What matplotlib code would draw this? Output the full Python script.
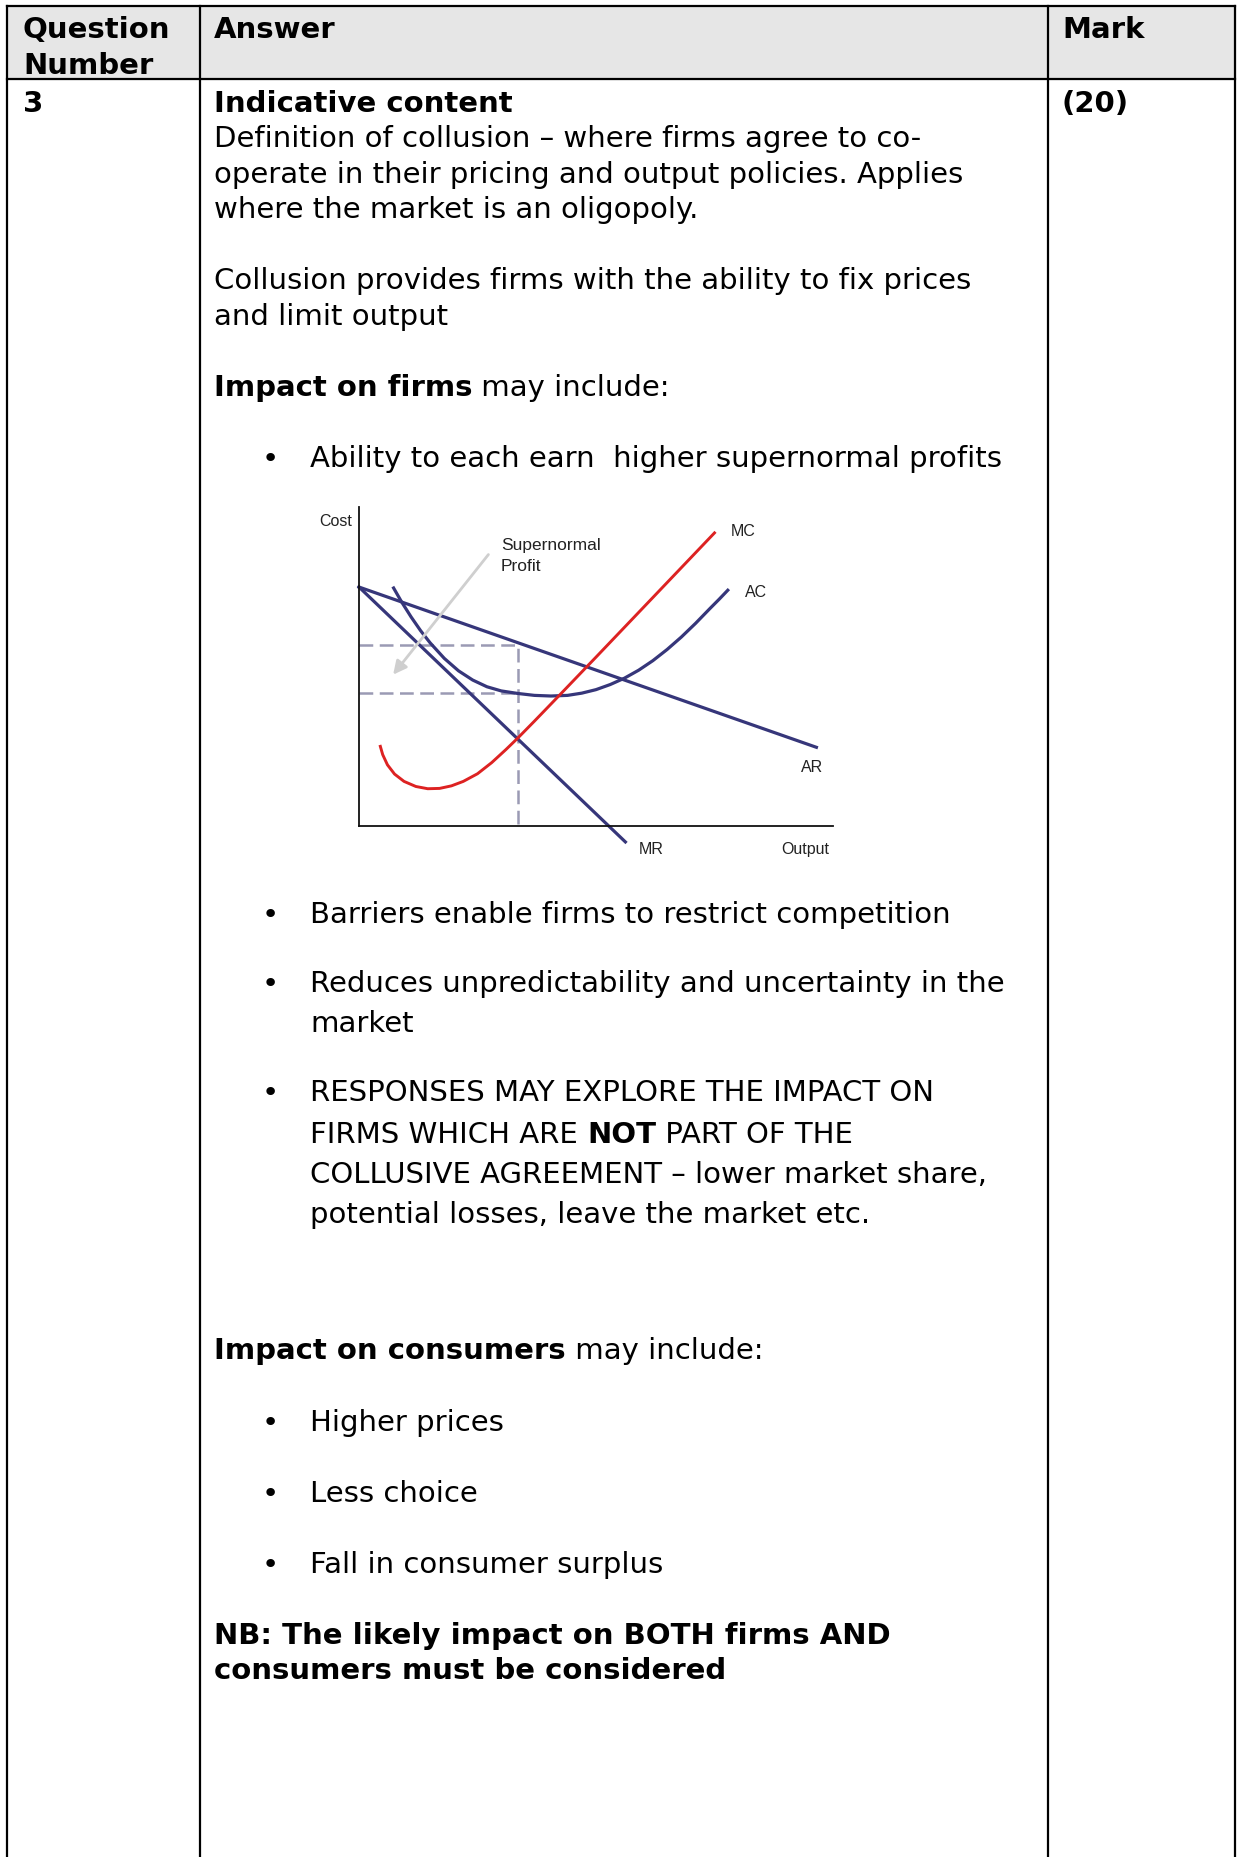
import matplotlib.pyplot as plt

W, H = 1237, 1858
DPI = 100

# table text
header = ["Question\nNumber", "Answer", "Mark"]
question_no = "3"
mark = "(20)"

# diagram data (output 0-100, cost 0-100)
ar_q = [0, 96.5]
ar_c = [75.0, 24.7]
mr_q = [0, 56.2]
mr_c = [75.0, -5.0]
ac_q = [7.3, 9, 11, 13, 15, 18, 21, 24, 27, 30, 33.5, 37, 40.5, 44, 47, 50,
        53, 56, 59, 62, 65, 68, 71, 74, 76, 77.8]
ac_c = [74.7, 70.3, 65.6, 61.3, 57.5, 52.6, 48.7, 45.8, 43.7, 42.4, 41.6, 41.0,
        40.8, 41.0, 41.7, 42.8, 44.4, 46.4, 48.9, 51.9, 55.4, 59.3, 63.6, 68.2,
        71.2, 74.0]
mc_q = [4.5, 5.0, 6.0, 7.5, 9.5, 12, 14.5, 17, 19.5, 22, 25, 28, 31, 33.5, 37,
        42, 50, 60, 75]
mc_c = [25.0, 22.4, 19.2, 16.3, 14.0, 12.4, 11.7, 11.8, 12.6, 14.0, 16.4, 19.9,
        24.0, 27.6, 32.9, 40.6, 53.0, 68.6, 92.0]
q_star = 33.5
p_star = 56.9
ac_star = 41.9

fig = plt.figure(figsize=(W / DPI, H / DPI), dpi=DPI)
bg = fig.add_axes([0, 0, 1, 1])
bg.set_xlim(0, W)
bg.set_ylim(H, 0)
bg.axis("off")

FS = 21
FAM = "DejaVu Sans"

# table grid
x_left, x_c1, x_c2, x_right = 7, 200, 1048, 1235
y_top, y_head = 7, 80
bg.fill_between([x_left, x_right], y_top, y_head, color="#e6e6e6", zorder=0)
lw = 1.6
bg.plot([x_left, x_right], [y_top, y_top], color="black", lw=lw)
bg.plot([x_left, x_right], [y_head, y_head], color="black", lw=lw)
for x in [x_left, x_c1, x_c2, x_right]:
    bg.plot([x, x], [y_top, H + 5], color="black", lw=lw)

def txt(x, y, s, bold=False, **kw):
    return bg.text(x, y, s, fontsize=FS, family=FAM, va="center_baseline",
                   fontweight="bold" if bold else "normal", **kw)

def after(prev, s, bold=False):
    return bg.annotate(s, xy=(1, 0), xycoords=prev, va="bottom", ha="left",
                       fontsize=FS, family=FAM,
                       fontweight="bold" if bold else "normal")

# header
txt(23, 27, "Question", bold=True)
txt(23, 63, "Number", bold=True)
txt(214, 27, header[1], bold=True)
txt(1062, 27, header[2], bold=True)

txt(23, 101, question_no, bold=True)
txt(1062, 101, mark, bold=True)

# answer text
X0 = 214
txt(X0, 101, "Indicative content", bold=True)
txt(X0, 136, "Definition of collusion – where firms agree to co-")
txt(X0, 172, "operate in their pricing and output policies. Applies")
txt(X0, 207, "where the market is an oligopoly.")
txt(X0, 278, "Collusion provides firms with the ability to fix prices")
txt(X0, 314, "and limit output")

t = txt(X0, 385, "Impact on firms", bold=True)
after(t, " may include:")

XB, XT = 262, 310
def bullet(y):
    txt(XB, y, "•")

bullet(456)
txt(XT, 456, "Ability to each earn  higher supernormal profits")

bullet(912)
txt(XT, 912, "Barriers enable firms to restrict competition")
bullet(981)
txt(XT, 981, "Reduces unpredictability and uncertainty in the")
txt(XT, 1021, "market")
bullet(1090)
txt(XT, 1090, "RESPONSES MAY EXPLORE THE IMPACT ON")
t = txt(XT, 1132, "FIRMS WHICH ARE ")
t = after(t, "NOT", bold=True)
after(t, " PART OF THE")
txt(XT, 1172, "COLLUSIVE AGREEMENT – lower market share,")
txt(XT, 1212, "potential losses, leave the market etc.")

t = txt(X0, 1348, "Impact on consumers", bold=True)
after(t, " may include:")
bullet(1420)
txt(XT, 1420, "Higher prices")
bullet(1491)
txt(XT, 1491, "Less choice")
bullet(1562)
txt(XT, 1562, "Fall in consumer surplus")

txt(X0, 1633, "NB: The likely impact on BOTH firms AND", bold=True)
txt(X0, 1668, "consumers must be considered", bold=True)

# diagram
ax_l, ax_b, ax_w, ax_h = 359, 827, 474, 318.6
ax = fig.add_axes([ax_l / W, (H - ax_b) / H, ax_w / W, ax_h / H])
ax.set_xlim(0, 100)
ax.set_ylim(0, 100)
ax.patch.set_alpha(0)
for side in ["top", "right"]:
    ax.spines[side].set_visible(False)
for side in ["left", "bottom"]:
    ax.spines[side].set_linewidth(1.3)
    ax.spines[side].set_color("#111111")
ax.set_xticks([])
ax.set_yticks([])

navy = "#36367a"
red = "#dd2222"
dash = "#9b9ab4"
dstyle = (0, (5.5, 2.6))
ax.plot([0, q_star], [p_star, p_star], color=dash, lw=1.8, ls=dstyle)
ax.plot([0, q_star], [ac_star, ac_star], color=dash, lw=1.8, ls=dstyle)
ax.plot([q_star, q_star], [0.7, p_star], color=dash, lw=1.8, ls=dstyle)

ax.plot(ar_q, ar_c, color=navy, lw=2.3, clip_on=False)
ax.plot(mr_q, mr_c, color=navy, lw=2.3, clip_on=False)
ax.plot(ac_q, ac_c, color=navy, lw=2.3, solid_joinstyle="round", clip_on=False)
ax.plot(mc_q, mc_c, color=red, lw=2.1, solid_joinstyle="round", clip_on=False)

ax.annotate("", xy=(7.2, 47.5), xytext=(27.3, 85.2),
            arrowprops=dict(arrowstyle="-|>", color="#cfcfcf", lw=2.0,
                            mutation_scale=20, shrinkA=0, shrinkB=0))

LF = "Liberation Sans"
LS = 11.5
def lab(q, c, s, ha="left", size=LS):
    ax.text(q, c, s, fontsize=size, family=LF, ha=ha, va="center",
            color="#222222", clip_on=False)

lab(-5.0, 95.8, "Cost", ha="center")
lab(29.9, 88.4, "Supernormal", size=12.5)
lab(29.9, 81.8, "Profit", size=12.5)
lab(78.4, 92.6, "MC")
lab(81.4, 73.6, "AC")
lab(93.2, 18.7, "AR")
lab(59.1, -7.2, "MR")
lab(89.0, -7.2, "Output")

fig.savefig("out.png", dpi=DPI)
